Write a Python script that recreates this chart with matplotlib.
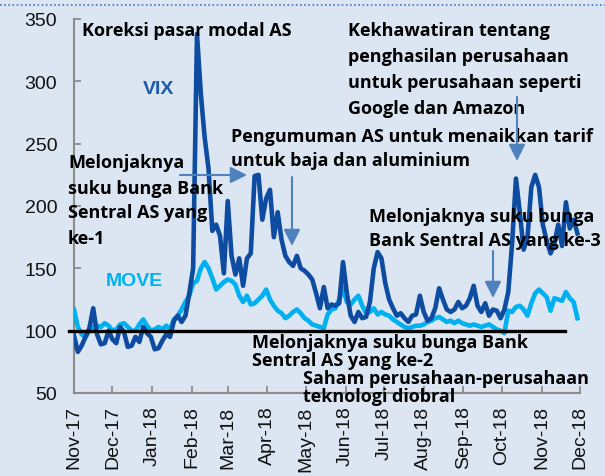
import matplotlib
matplotlib.use("Agg")
import matplotlib.pyplot as plt
import matplotlib.dates as mdates
import pandas as pd
from matplotlib.lines import Line2D

# data: one reading every 3 days from 1 Nov 2017
start_date = "2017-11-01"
vix = [96, 83, 88, 95, 102, 118, 97, 89, 90, 100, 93, 90, 103, 99, 87, 88, 95, 91, 103, 98,
       95, 85, 86, 92, 97, 95, 108, 112, 107, 112, 130, 150, 338, 290, 255, 230, 180, 185, 176, 146,
       204, 160, 145, 158, 136, 158, 162, 224, 225, 189, 206, 213, 175, 195, 173, 160, 155, 152, 160, 150,
       148, 145, 141, 130, 118, 135, 118, 121, 120, 122, 155, 130, 112, 107, 115, 110, 111, 123, 150, 163,
       158, 138, 125, 118, 112, 114, 110, 107, 112, 113, 128, 115, 108, 110, 118, 134, 125, 117, 115, 117,
       123, 118, 120, 126, 136, 120, 115, 122, 112, 117, 116, 110, 117, 131, 170, 222, 195, 165, 175, 215,
       225, 215, 185, 172, 162, 170, 185, 168, 203, 182, 189, 178]
move = [117, 103, 97, 95, 100, 103, 104, 103, 106, 104, 100, 101, 105, 106, 103, 100, 100, 105, 109, 104,
        100, 101, 103, 101, 104, 101, 109, 112, 117, 123, 128, 138, 140, 150, 155, 150, 142, 133, 136, 139,
        141, 140, 137, 128, 123, 128, 121, 122, 125, 128, 133, 125, 120, 116, 114, 110, 112, 115, 117, 114,
        110, 108, 105, 104, 103, 102, 113, 117, 118, 125, 134, 123, 121, 125, 128, 120, 114, 115, 118, 113,
        115, 113, 112, 109, 107, 105, 103, 102, 103, 104, 104, 105, 107, 108, 110, 111, 109, 107, 108, 106,
        108, 106, 105, 104, 105, 104, 103, 104, 105, 103, 101, 100, 98, 116, 115, 119, 120, 117, 112, 122,
        130, 133, 130, 127, 116, 126, 125, 124, 131, 126, 123, 110]
dates = pd.date_range(start_date, periods=len(vix), freq="3D")

baseline_dates = pd.to_datetime(["2017-10-28", "2018-11-19"])
baseline_vals = [100, 100]

W, H = 605, 477
BG = "#dce6f2"
VIX_C = "#0d4ca1"
MOVE_C = "#00b0f0"
ARROW_C = "#4f81bd"


def fp(x, y):
    # pixel position from top-left -> figure fraction
    return x / W, 1 - y / H


fig = plt.figure(figsize=(W / 100, H / 100), dpi=100, facecolor=BG)
ax = fig.add_axes([74 / W, 83 / H, 506 / W, 374 / H], facecolor=BG)

ax.plot(dates, move, color=MOVE_C, lw=3.3, solid_joinstyle="round", zorder=3)
ax.plot(dates, vix, color=VIX_C, lw=3.3, solid_joinstyle="round", zorder=4)
ax.plot(baseline_dates, baseline_vals, color="black", lw=2.4, clip_on=False, zorder=5)

ax.set_ylim(50, 350)
ax.set_yticks(range(50, 351, 50))
ax.set_xlim(pd.Timestamp("2017-11-01"), pd.Timestamp("2018-12-01"))
ax.xaxis.set_major_locator(mdates.MonthLocator())
ax.xaxis.set_major_formatter(mdates.DateFormatter("%b-%y"))

for s in ["top", "right"]:
    ax.spines[s].set_visible(False)
for s in ["left", "bottom"]:
    ax.spines[s].set_color("#8c8c8c")
    ax.spines[s].set_linewidth(1.5)

ax.tick_params(axis="both", direction="in", length=5, width=1.3, color="#8c8c8c",
               labelsize=14, labelcolor="#111111")
ax.tick_params(axis="y", pad=12)
ax.tick_params(axis="x", pad=9, labelrotation=90)
for lab in ax.get_xticklabels() + ax.get_yticklabels():
    lab.set_fontfamily("Liberation Sans")

# series labels
fig.text(*fp(143, 90), "VIX", color="#1f5aa8", fontsize=14, fontweight="bold",
         family="Liberation Sans", va="center")
fig.text(*fp(106, 281), "MOVE", color=MOVE_C, fontsize=14, fontweight="bold",
         family="Liberation Sans", va="center")

ann = dict(fontsize=13, fontweight="bold", family="Open Sans", color="black", va="center")
fig.text(*fp(82, 31), "Koreksi pasar modal AS", **ann)
fig.text(*fp(348, 70), "Kekhawatiran tentang\npenghasilan perusahaan\nuntuk perusahaan seperti\nGoogle dan Amazon",
         linespacing=1.55, **ann)
fig.text(*fp(231, 149), "Pengumuman AS untuk menaikkan tarif\nuntuk baja dan aluminium",
         linespacing=1.5, **ann)
fig.text(*fp(68, 201), "Melonjaknya\nsuku bunga Bank\nSentral AS yang\nke-1",
         linespacing=1.5, **ann)
fig.text(*fp(369, 229), "Melonjaknya suku bunga\nBank Sentral AS yang ke-3",
         linespacing=1.45, **ann)
fig.text(*fp(252, 352), "Melonjaknya suku bunga Bank\nSentral AS yang ke-2",
         linespacing=1.0, **ann)
fig.text(*fp(303, 388), "Saham perusahaan-perusahaan\nteknologi diobral",
         linespacing=1.0, **ann)

# arrows
arrows = [((180, 176), (247, 176)),
          ((292, 178), (292, 247)),
          ((517, 98), (517, 162)),
          ((493, 252), (493, 299))]
for (x0, y0), (x1, y1) in arrows:
    fig.add_artist(matplotlib.patches.FancyArrowPatch(
        fp(x0, y0), fp(x1, y1), transform=fig.transFigure,
        arrowstyle="-|>,head_length=1.0,head_width=0.5", mutation_scale=10,
        color=ARROW_C, lw=1.5, shrinkA=0, shrinkB=0, zorder=6))

# dotted rule at the top
fig.add_artist(Line2D([0, 1], [1 - 6 / H, 1 - 6 / H], transform=fig.transFigure,
                      color="#4472c4", lw=1.2, ls=(0, (1, 1.5))))

fig.savefig("out.png", dpi=100, facecolor=BG)
